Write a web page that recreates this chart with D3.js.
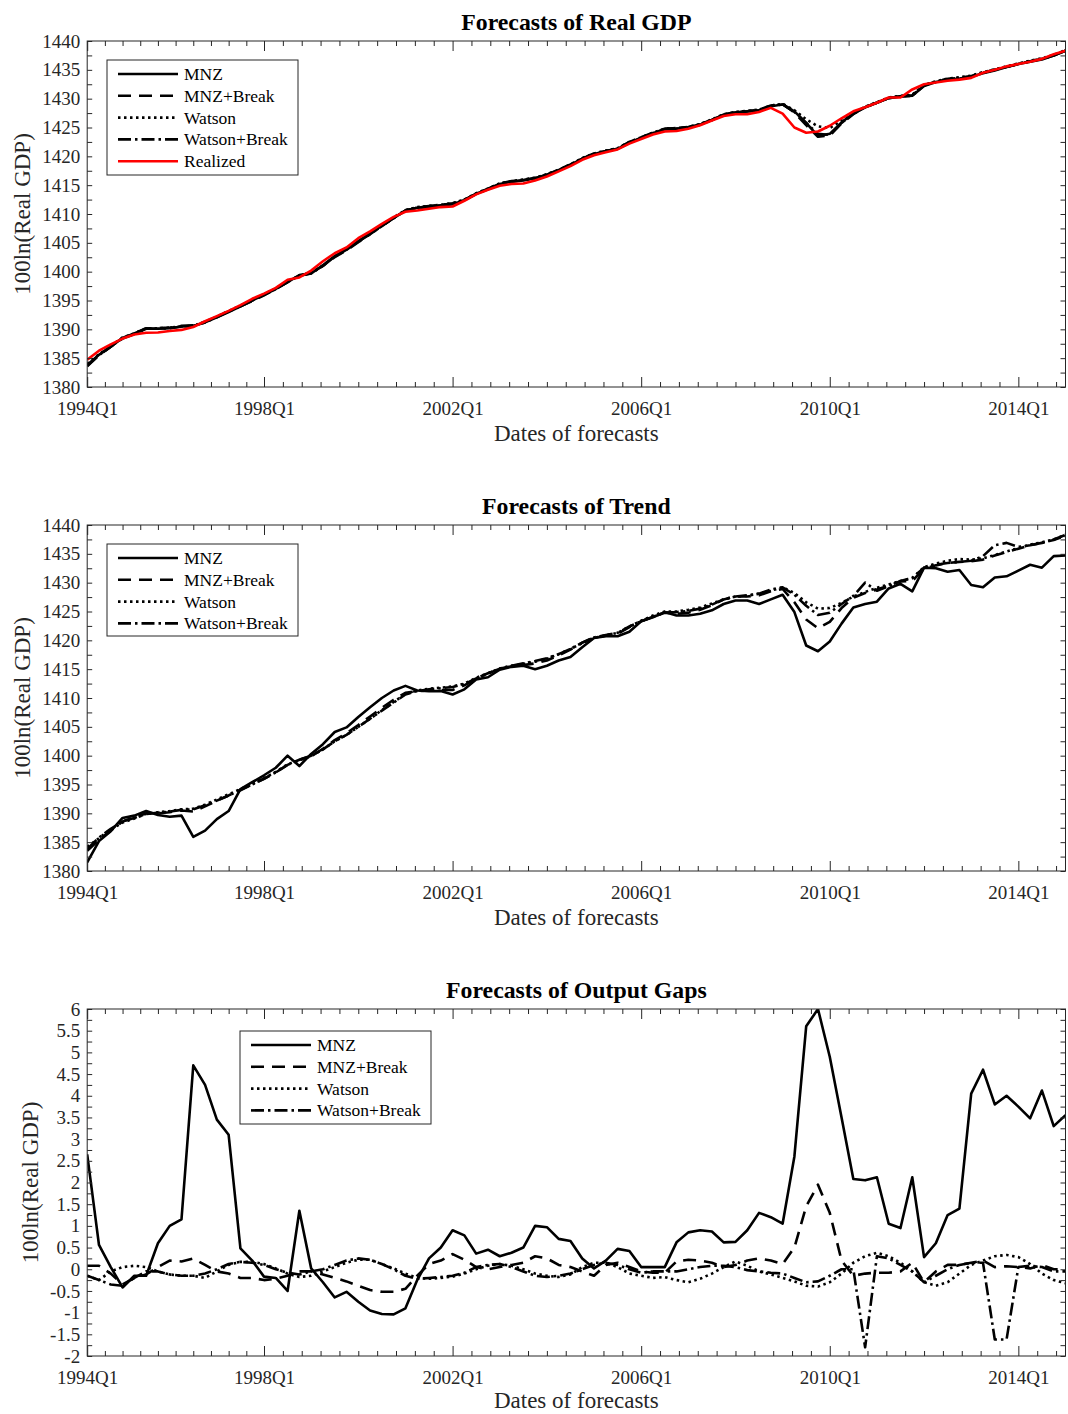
<!DOCTYPE html>
<html><head><meta charset="utf-8">
<script src="https://cdn.jsdelivr.net/npm/d3@7"></script>
<style>body{margin:0;background:#fff}</style>
</head><body><svg id="c" width="1068" height="1414"></svg>
<script>
// ---------- DATA ----------
const xTickIndex = [1, 16, 32, 48, 64, 80];
const xTickLabels = ["1994Q1", "1998Q1", "2002Q1", "2006Q1", "2010Q1", "2014Q1"];
const seriesNames = ["MNZ", "MNZ+Break", "Watson", "Watson+Break"];

const realized = [1384.75,1386.3,1387.4,1388.4,1389.1,1389.4,1389.45,1389.7,1389.9,1390.4,
1391.4,1392.3,1393.2,1394.2,1395.3,1396.2,1397.2,1398.6,1399.0,1400.2,
1401.8,1403.2,1404.2,1405.8,1407.0,1408.3,1409.5,1410.4,1410.6,1410.9,
1411.2,1411.3,1412.3,1413.4,1414.2,1414.9,1415.2,1415.3,1415.8,1416.5,
1417.4,1418.3,1419.4,1420.2,1420.7,1421.2,1422.2,1423.0,1423.8,1424.3,
1424.4,1424.8,1425.4,1426.2,1427.0,1427.3,1427.3,1427.7,1428.4,1427.4,
1425.0,1424.1,1424.3,1425.3,1426.6,1427.8,1428.5,1429.3,1430.2,1430.2,
1431.6,1432.5,1432.8,1433.1,1433.3,1433.6,1434.5,1435.0,1435.6,1436.0,
1436.4,1436.9,1437.7,1438.3];

const fcMNZ = [1383.8,1385.6,1387.0,1388.5,1389.3,1390.2,1390.1,1390.2,1390.5,1390.6,
1391.2,1392.1,1393.0,1394.0,1395.0,1396.0,1397.0,1398.2,1399.4,1399.7,
1401.1,1402.7,1403.9,1405.3,1406.6,1408.0,1409.3,1410.6,1411.1,1411.2,
1411.5,1411.7,1412.4,1413.5,1414.3,1415.2,1415.6,1415.8,1416.2,1416.8,
1417.6,1418.5,1419.6,1420.4,1420.9,1421.3,1422.4,1423.2,1424.0,1424.7,
1424.8,1425.0,1425.5,1426.3,1427.2,1427.6,1427.8,1428.0,1428.7,1429.0,
1427.8,1425.8,1423.5,1423.9,1425.9,1427.4,1428.5,1429.3,1430.1,1430.4,
1430.5,1432.2,1432.9,1433.3,1433.5,1433.8,1434.4,1434.9,1435.5,1436.0,
1436.4,1436.8,1437.5,1438.3];

const fcMNZB = [1383.6,1385.5,1387.0,1388.4,1389.2,1390.1,1390.2,1390.3,1390.6,1390.7,
1391.3,1392.2,1393.1,1394.0,1394.9,1395.9,1397.0,1398.2,1399.3,1399.8,
1401.0,1402.5,1403.7,1405.1,1406.5,1407.9,1409.3,1410.6,1411.1,1411.4,
1411.6,1411.8,1412.5,1413.5,1414.4,1415.3,1415.7,1415.9,1416.3,1416.8,
1417.7,1418.6,1419.6,1420.5,1420.9,1421.4,1422.5,1423.3,1424.1,1424.8,
1424.9,1425.1,1425.6,1426.3,1427.2,1427.7,1427.8,1428.1,1428.8,1429.1,
1427.6,1425.4,1423.4,1423.6,1425.7,1427.3,1428.5,1429.3,1430.1,1430.4,
1430.6,1432.3,1433.0,1433.4,1433.6,1433.9,1434.5,1435.0,1435.5,1436.0,
1436.5,1436.9,1437.5,1438.3];

const fcWatson = [1384.0,1385.7,1387.1,1388.6,1389.3,1390.2,1390.2,1390.3,1390.5,1390.6,
1391.3,1392.2,1393.2,1394.1,1395.1,1396.1,1397.1,1398.3,1399.3,1399.8,
1401.1,1402.6,1403.8,1405.2,1406.6,1408.0,1409.4,1410.7,1411.2,1411.4,
1411.6,1411.9,1412.5,1413.6,1414.4,1415.3,1415.7,1416.0,1416.3,1416.9,
1417.7,1418.6,1419.7,1420.5,1421.0,1421.4,1422.5,1423.3,1424.1,1424.8,
1424.9,1425.1,1425.6,1426.4,1427.3,1427.7,1427.9,1428.1,1428.8,1429.1,
1428.0,1426.4,1425.2,1424.9,1426.2,1427.6,1428.6,1429.4,1430.2,1430.5,
1430.7,1432.4,1433.0,1433.5,1433.7,1434.0,1434.6,1435.1,1435.6,1436.1,
1436.6,1437.0,1437.6,1438.4];

const fcWatsonB = [1383.7,1385.5,1387.0,1388.5,1389.2,1390.1,1390.1,1390.2,1390.5,1390.6,
1391.2,1392.1,1393.1,1394.0,1395.0,1396.0,1397.0,1398.2,1399.3,1399.7,
1401.0,1402.6,1403.8,1405.2,1406.5,1407.9,1409.3,1410.6,1411.1,1411.3,
1411.5,1411.8,1412.4,1413.5,1414.3,1415.2,1415.6,1415.9,1416.2,1416.8,
1417.6,1418.5,1419.6,1420.4,1420.9,1421.3,1422.4,1423.2,1424.0,1424.7,
1424.8,1425.0,1425.5,1426.3,1427.2,1427.6,1427.8,1428.0,1428.7,1429.0,
1427.7,1425.8,1423.9,1423.7,1425.8,1427.4,1428.5,1429.3,1430.1,1430.4,
1430.5,1432.3,1432.9,1433.4,1433.6,1433.9,1434.5,1435.0,1435.5,1436.0,
1436.5,1436.9,1437.5,1438.3];

const trMNZ = [1381.5,1385.2,1386.9,1389.2,1389.6,1390.4,1389.7,1389.4,1389.6,1385.9,
1387.0,1389.0,1390.4,1394.2,1395.4,1396.6,1397.9,1400.0,1398.2,1400.3,
1402.0,1404.1,1404.9,1406.7,1408.4,1410.0,1411.3,1412.1,1411.3,1411.2,
1411.2,1410.6,1411.5,1413.2,1413.6,1414.9,1415.4,1415.6,1415.0,1415.6,
1416.5,1417.1,1418.8,1420.4,1420.7,1420.7,1421.5,1423.3,1424.0,1424.9,
1424.3,1424.3,1424.6,1425.2,1426.3,1426.9,1426.9,1426.3,1427.1,1427.9,
1424.9,1419.1,1418.1,1419.8,1422.9,1425.7,1426.3,1426.7,1429.0,1429.8,
1428.5,1432.6,1432.5,1431.9,1432.2,1429.6,1429.2,1430.9,1431.1,1432.1,
1433.1,1432.6,1434.6,1434.7];

const trMNZB = [1383.5,1385.4,1387.0,1388.6,1389.3,1390.0,1390.0,1390.2,1390.5,1390.3,
1391.2,1392.2,1393.1,1394.1,1395.0,1396.0,1397.1,1398.4,1399.3,1399.9,
1401.2,1402.7,1403.9,1405.3,1406.8,1408.3,1409.7,1410.9,1411.2,1411.3,
1411.4,1411.4,1412.2,1413.4,1414.3,1415.1,1415.5,1415.7,1416.0,1416.5,
1417.4,1418.4,1419.6,1420.5,1420.8,1421.1,1422.3,1423.3,1424.1,1424.8,
1424.6,1424.8,1425.3,1426.1,1427.1,1427.6,1427.6,1427.8,1428.5,1428.9,
1426.6,1423.6,1422.1,1423.2,1425.6,1427.4,1428.2,1428.8,1429.5,1430.2,
1430.3,1432.4,1433.0,1433.4,1433.6,1433.7,1434.0,1434.7,1435.3,1435.9,
1436.5,1436.9,1437.5,1438.3];

const trWatson = [1384.2,1385.7,1387.2,1388.4,1389.1,1389.9,1390.2,1390.4,1390.7,1390.8,
1391.5,1392.4,1393.3,1394.2,1395.1,1396.1,1397.2,1398.5,1399.2,1399.9,
1401.1,1402.5,1403.6,1405.0,1406.4,1407.9,1409.3,1410.7,1411.3,1411.6,
1411.8,1412.0,1412.5,1413.5,1414.3,1415.1,1415.6,1415.9,1416.3,1416.8,
1417.6,1418.5,1419.5,1420.4,1420.9,1421.3,1422.4,1423.4,1424.3,1425.0,
1425.0,1425.3,1425.7,1426.4,1427.1,1427.6,1427.7,1428.1,1428.6,1429.2,
1428.2,1426.6,1425.5,1425.6,1426.5,1427.6,1428.4,1429.1,1429.7,1430.3,
1430.8,1432.7,1433.3,1433.8,1434.1,1434.0,1434.2,1434.8,1435.4,1436.0,
1436.6,1437.0,1437.5,1438.3];

const trWatsonB = [1383.8,1385.8,1387.3,1388.6,1389.2,1389.9,1390.1,1390.3,1390.6,1390.7,
1391.4,1392.2,1393.1,1394.0,1395.0,1396.0,1397.1,1398.4,1399.3,1400.0,
1401.1,1402.5,1403.6,1405.0,1406.4,1407.8,1409.2,1410.6,1411.2,1411.5,
1411.7,1411.9,1412.4,1413.4,1414.2,1415.1,1415.6,1416.0,1416.4,1416.9,
1417.6,1418.5,1419.6,1420.5,1420.9,1421.3,1422.4,1423.3,1424.1,1424.8,
1424.9,1425.1,1425.5,1426.2,1427.1,1427.6,1427.8,1428.1,1428.8,1429.2,
1427.9,1426.0,1424.4,1424.8,1426.3,1427.7,1430.0,1428.6,1429.4,1430.3,
1430.8,1432.6,1433.1,1433.4,1433.6,1433.8,1434.6,1436.5,1436.9,1436.2,
1436.5,1436.9,1437.4,1438.1];

const gapMNZ = [2.65,0.56,0.05,-0.42,-0.15,-0.15,0.6,1.0,1.15,4.7,
4.25,3.45,3.1,0.48,0.2,-0.17,-0.2,-0.5,1.35,0.02,
-0.3,-0.65,-0.52,-0.75,-0.95,-1.03,-1.04,-0.9,-0.25,0.25,
0.5,0.9,0.78,0.36,0.45,0.3,0.38,0.5,1.0,0.97,
0.7,0.65,0.25,0.02,0.2,0.47,0.42,0.05,0.05,0.05,
0.62,0.85,0.9,0.87,0.62,0.63,0.9,1.3,1.2,1.05,
2.6,5.6,6.0,4.9,3.5,2.08,2.05,2.12,1.05,0.95,
2.12,0.28,0.6,1.25,1.4,4.05,4.6,3.8,4.0,3.75,
3.48,4.12,3.3,3.55];

const gapMNZB = [0.08,0.08,-0.1,-0.35,-0.2,-0.12,0.05,0.2,0.18,0.25,
0.1,-0.05,-0.1,-0.2,-0.2,-0.25,-0.22,-0.15,-0.05,-0.05,
-0.12,-0.2,-0.28,-0.38,-0.48,-0.52,-0.52,-0.45,-0.15,0.12,
0.2,0.35,0.22,0.05,0.0,0.05,0.1,0.15,0.3,0.25,
0.1,0.05,-0.05,-0.15,0.1,0.15,0.05,-0.05,-0.08,-0.08,
0.18,0.22,0.2,0.15,0.05,0.1,0.2,0.25,0.2,0.12,
0.5,1.45,1.95,1.3,0.2,-0.15,-0.1,-0.08,-0.08,-0.05,
0.15,-0.3,-0.05,0.1,0.1,0.15,0.2,0.05,0.07,0.05,
0.02,0.1,0.0,0.0];

const gapWatson = [-0.15,-0.25,-0.05,0.05,0.08,0.05,-0.05,-0.12,-0.15,-0.15,
-0.2,-0.05,0.1,0.17,0.17,0.12,0.02,-0.1,-0.18,-0.15,
-0.05,0.05,0.15,0.22,0.22,0.12,0.02,-0.1,-0.2,-0.22,
-0.2,-0.17,-0.1,0.0,0.08,0.12,0.08,0.0,-0.1,-0.15,
-0.18,-0.12,0.05,0.15,0.15,0.05,-0.1,-0.15,-0.2,-0.18,
-0.25,-0.3,-0.22,-0.1,0.05,0.18,0.08,-0.05,-0.12,-0.2,
-0.28,-0.38,-0.4,-0.3,-0.1,0.15,0.3,0.38,0.3,0.15,
-0.05,-0.3,-0.38,-0.3,-0.1,0.1,0.2,0.3,0.33,0.28,
0.12,-0.1,-0.25,-0.32];

const gapWatsonB = [-0.15,-0.25,-0.35,-0.38,-0.2,-0.05,-0.05,-0.12,-0.15,-0.15,
-0.1,0.0,0.12,0.17,0.15,0.1,0.0,-0.08,-0.12,-0.05,
0.0,0.1,0.2,0.25,0.22,0.12,0.0,-0.15,-0.22,-0.2,
-0.18,-0.15,-0.08,0.05,0.1,0.12,0.05,-0.05,-0.15,-0.18,
-0.15,-0.1,0.0,0.1,0.15,0.1,0.0,-0.08,-0.05,-0.05,
-0.05,0.0,0.05,0.08,0.08,0.05,-0.02,-0.05,-0.08,-0.1,
-0.2,-0.3,-0.28,-0.15,0.0,0.0,-1.8,0.3,0.25,0.1,
-0.05,-0.3,-0.15,0.0,0.1,0.15,0.15,-1.62,-1.62,0.05,
0.08,0.05,-0.05,-0.05];

// ---------- STYLE ----------
const FONT = "'Liberation Serif','Times New Roman',Times,serif";
const AX = "#262626";
const styles = {
  "MNZ": {dash: null, color: "#000"},
  "MNZ+Break": {dash: "13,8", color: "#000"},
  "Watson": {dash: "2.5,3.5", color: "#000"},
  "Watson+Break": {dash: "13,4,2.5,4", color: "#000"},
  "Realized": {dash: null, color: "#ff0000"}
};

const svg = d3.select("#c");
const X0 = 87.2, X1 = 1065.5;
const nObs = realized.length;
const x = d3.scaleLinear().domain([1, nObs]).range([X0, X1]);

// minor tick positions: 10 subdivisions between major ticks
const xMinor = [];
for (let i = 0; i < xTickIndex.length; i++) {
  const a = xTickIndex[i];
  const step = i < xTickIndex.length - 1 ? (xTickIndex[i+1] - a) / 10 : (xTickIndex[i] - xTickIndex[i-1]) / 10;
  for (let j = 1; j < 10; j++) {
    const v = a + j * step;
    if (v < nObs) xMinor.push(v);
  }
}

const panels = [
  {top: 41, bottom: 387, domain: [1380, 1440], major: d3.range(1380, 1441, 5), minor: d3.range(1382.5, 1440, 5),
   title: "Forecasts of Real GDP", ylabX: 22, xlabDy: 54,
   series: [["MNZ", fcMNZ], ["MNZ+Break", fcMNZB], ["Watson", fcWatson], ["Watson+Break", fcWatsonB], ["Realized", realized]],
   legend: {x: 107, y: 60, w: 191, h: 115, names: ["MNZ", "MNZ+Break", "Watson", "Watson+Break", "Realized"]}},
  {top: 525, bottom: 871, domain: [1380, 1440], major: d3.range(1380, 1441, 5), minor: d3.range(1382.5, 1440, 5),
   title: "Forecasts of Trend", ylabX: 22, xlabDy: 54,
   series: [["MNZ", trMNZ], ["MNZ+Break", trMNZB], ["Watson", trWatson], ["Watson+Break", trWatsonB]],
   legend: {x: 107, y: 544, w: 191, h: 92, names: seriesNames}},
  {top: 1009, bottom: 1356, domain: [-2, 6], major: d3.range(-2, 6.001, 0.5), minor: d3.range(-1.75, 6, 0.5),
   title: "Forecasts of Output Gaps", ylabX: 30, xlabDy: 52,
   series: [["MNZ", gapMNZ], ["MNZ+Break", gapMNZB], ["Watson", gapWatson], ["Watson+Break", gapWatsonB]],
   legend: {x: 240, y: 1031, w: 191, h: 93, names: seriesNames}}
];

function styleAxis(g) {
  g.select(".domain").remove();
  g.selectAll(".tick line").attr("stroke", AX).attr("stroke-width", 1);
  g.selectAll(".tick text").attr("fill", AX).style("font-family", FONT).style("font-size", "19px");
}

panels.forEach((p, pi) => {
  const y = d3.scaleLinear().domain(p.domain).range([p.bottom, p.top]);
  const g = svg.append("g");

  const cid = "clip" + pi;
  svg.append("clipPath").attr("id", cid).append("rect")
    .attr("x", X0).attr("y", p.top).attr("width", X1 - X0).attr("height", p.bottom - p.top);

  const line = d3.line().x((d, i) => x(i + 1)).y(d => y(d));
  const lg = g.append("g").attr("clip-path", `url(#${cid})`);
  p.series.forEach(([name, vals]) => {
    const s = styles[name];
    lg.append("path").datum(vals).attr("d", line)
      .attr("fill", "none").attr("stroke", s.color).attr("stroke-width", 2.6)
      .attr("stroke-linejoin", "round")
      .attr("stroke-dasharray", s.dash);
  });

  const fmt = d => (p.domain[0] < 0 ? String(+d.toFixed(2)) : String(d));

  g.append("g").attr("transform", `translate(${X0},0)`)
    .call(d3.axisLeft(y).tickValues(p.major).tickFormat(fmt).tickSizeInner(-5).tickSizeOuter(0).tickPadding(7))
    .call(styleAxis);
  g.append("g").attr("transform", `translate(${X0},0)`)
    .call(d3.axisLeft(y).tickValues(p.minor).tickFormat("").tickSizeInner(-5).tickSizeOuter(0))
    .call(styleAxis);
  g.append("g").attr("transform", `translate(${X1},0)`)
    .call(d3.axisRight(y).tickValues(p.major.concat(p.minor)).tickFormat("").tickSizeInner(-5).tickSizeOuter(0))
    .call(styleAxis);
  g.append("g").attr("transform", `translate(0,${p.bottom})`)
    .call(d3.axisBottom(x).tickValues(xTickIndex).tickFormat((d, i) => xTickLabels[i]).tickSizeInner(-10).tickSizeOuter(0).tickPadding(15))
    .call(styleAxis);
  g.append("g").attr("transform", `translate(0,${p.bottom})`)
    .call(d3.axisBottom(x).tickValues(xMinor).tickFormat("").tickSizeInner(-5).tickSizeOuter(0))
    .call(styleAxis);
  g.append("g").attr("transform", `translate(0,${p.top})`)
    .call(d3.axisTop(x).tickValues(xTickIndex).tickFormat("").tickSizeInner(-10).tickSizeOuter(0))
    .call(styleAxis);
  g.append("g").attr("transform", `translate(0,${p.top})`)
    .call(d3.axisTop(x).tickValues(xMinor).tickFormat("").tickSizeInner(-5).tickSizeOuter(0))
    .call(styleAxis);

  g.append("rect").attr("x", X0).attr("y", p.top).attr("width", X1 - X0).attr("height", p.bottom - p.top)
    .attr("fill", "none").attr("stroke", AX).attr("stroke-width", 1);

  g.append("text").attr("x", (X0 + X1) / 2).attr("y", p.top - 11)
    .attr("text-anchor", "middle").style("font-family", FONT).style("font-size", "23.8px")
    .style("font-weight", "bold").attr("fill", "#000").text(p.title);

  g.append("text").attr("x", (X0 + X1) / 2).attr("y", p.bottom + p.xlabDy)
    .attr("text-anchor", "middle").style("font-family", FONT).style("font-size", "23px")
    .attr("fill", AX).text("Dates of forecasts");

  g.append("text").attr("transform", `translate(${p.ylabX},${(p.top + p.bottom) / 2}) rotate(-90)`)
    .attr("text-anchor", "middle").attr("dominant-baseline", "central")
    .style("font-family", FONT).style("font-size", "23px").attr("fill", AX).text("100ln(Real GDP)");

  const L = p.legend;
  const leg = g.append("g");
  leg.append("rect").attr("x", L.x).attr("y", L.y).attr("width", L.w).attr("height", L.h)
    .attr("fill", "#fff").attr("stroke", AX).attr("stroke-width", 1);
  const rowH = 21.8;
  L.names.forEach((name, i) => {
    const cy = L.y + 14 + i * rowH;
    const s = styles[name];
    leg.append("line").attr("x1", L.x + 11).attr("x2", L.x + 71).attr("y1", cy).attr("y2", cy)
      .attr("stroke", s.color).attr("stroke-width", 2.6).attr("stroke-dasharray", s.dash);
    leg.append("text").attr("x", L.x + 77).attr("y", cy + 6)
      .style("font-family", FONT).style("font-size", "17.5px").attr("fill", "#000").text(name);
  });
});
</script>
</body></html>
